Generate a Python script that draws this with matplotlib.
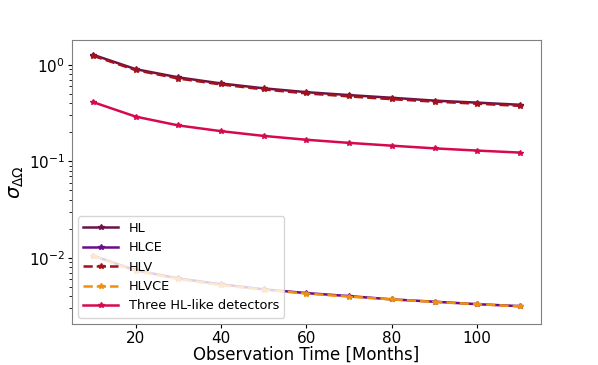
import matplotlib
matplotlib.use("Agg")
import matplotlib.pyplot as plt

months = [10, 20, 30, 40, 50, 60, 70, 80, 90, 100, 110]
hl = [1.27, 0.90, 0.74, 0.64, 0.57, 0.52, 0.485, 0.455, 0.425, 0.405, 0.385]
hlce = [0.0105, 0.0074, 0.0061, 0.0053, 0.0047, 0.0043, 0.0040, 0.0037, 0.0035, 0.0033, 0.00315]
hlv = [1.24, 0.88, 0.72, 0.625, 0.555, 0.505, 0.47, 0.44, 0.415, 0.395, 0.375]
hlvce = [0.0104, 0.0073, 0.0060, 0.0052, 0.00465, 0.00425, 0.00395, 0.0037, 0.00348, 0.0033, 0.00313]
three = [0.41, 0.29, 0.235, 0.205, 0.183, 0.167, 0.155, 0.145, 0.136, 0.129, 0.123]

fig = plt.figure(figsize=(5.98, 3.65), dpi=100)
ax = fig.add_axes([0.120, 0.112, 0.785, 0.778])

kw = dict(lw=1.8, marker='*', ms=4)
ax.plot(months, hl, color='#6b1248', label='HL', **kw)
ax.plot(months, hlce, color='#6a0c8c', label='HLCE', **kw)
ax.plot(months, hlv, color='#a3111a', ls='--', label='HLV', **kw)
ax.plot(months, hlvce, color='#f0900c', ls='--', label='HLVCE', **kw)
ax.plot(months, three, color='#d6094d', label='Three HL-like detectors', **kw)

ax.set_yscale('log')
ax.set_xlim(5, 115)
ax.set_ylim(0.00205, 1.8)
ax.set_xticks([20, 40, 60, 80, 100])
ax.tick_params(axis='both', which='major', labelsize=11, length=3, pad=2)
ax.tick_params(axis='both', which='minor', length=2)
ax.set_xlabel('Observation Time [Months]', fontsize=12, labelpad=0)
ax.set_ylabel(r'$\sigma_{\Delta\Omega}$', fontsize=14, labelpad=2)
for s in ax.spines.values():
    s.set_color('#808080')
ax.legend(loc='lower left', fontsize=9.3, handlelength=2.7, borderaxespad=0.5)

fig.savefig('out.png', dpi=100)
